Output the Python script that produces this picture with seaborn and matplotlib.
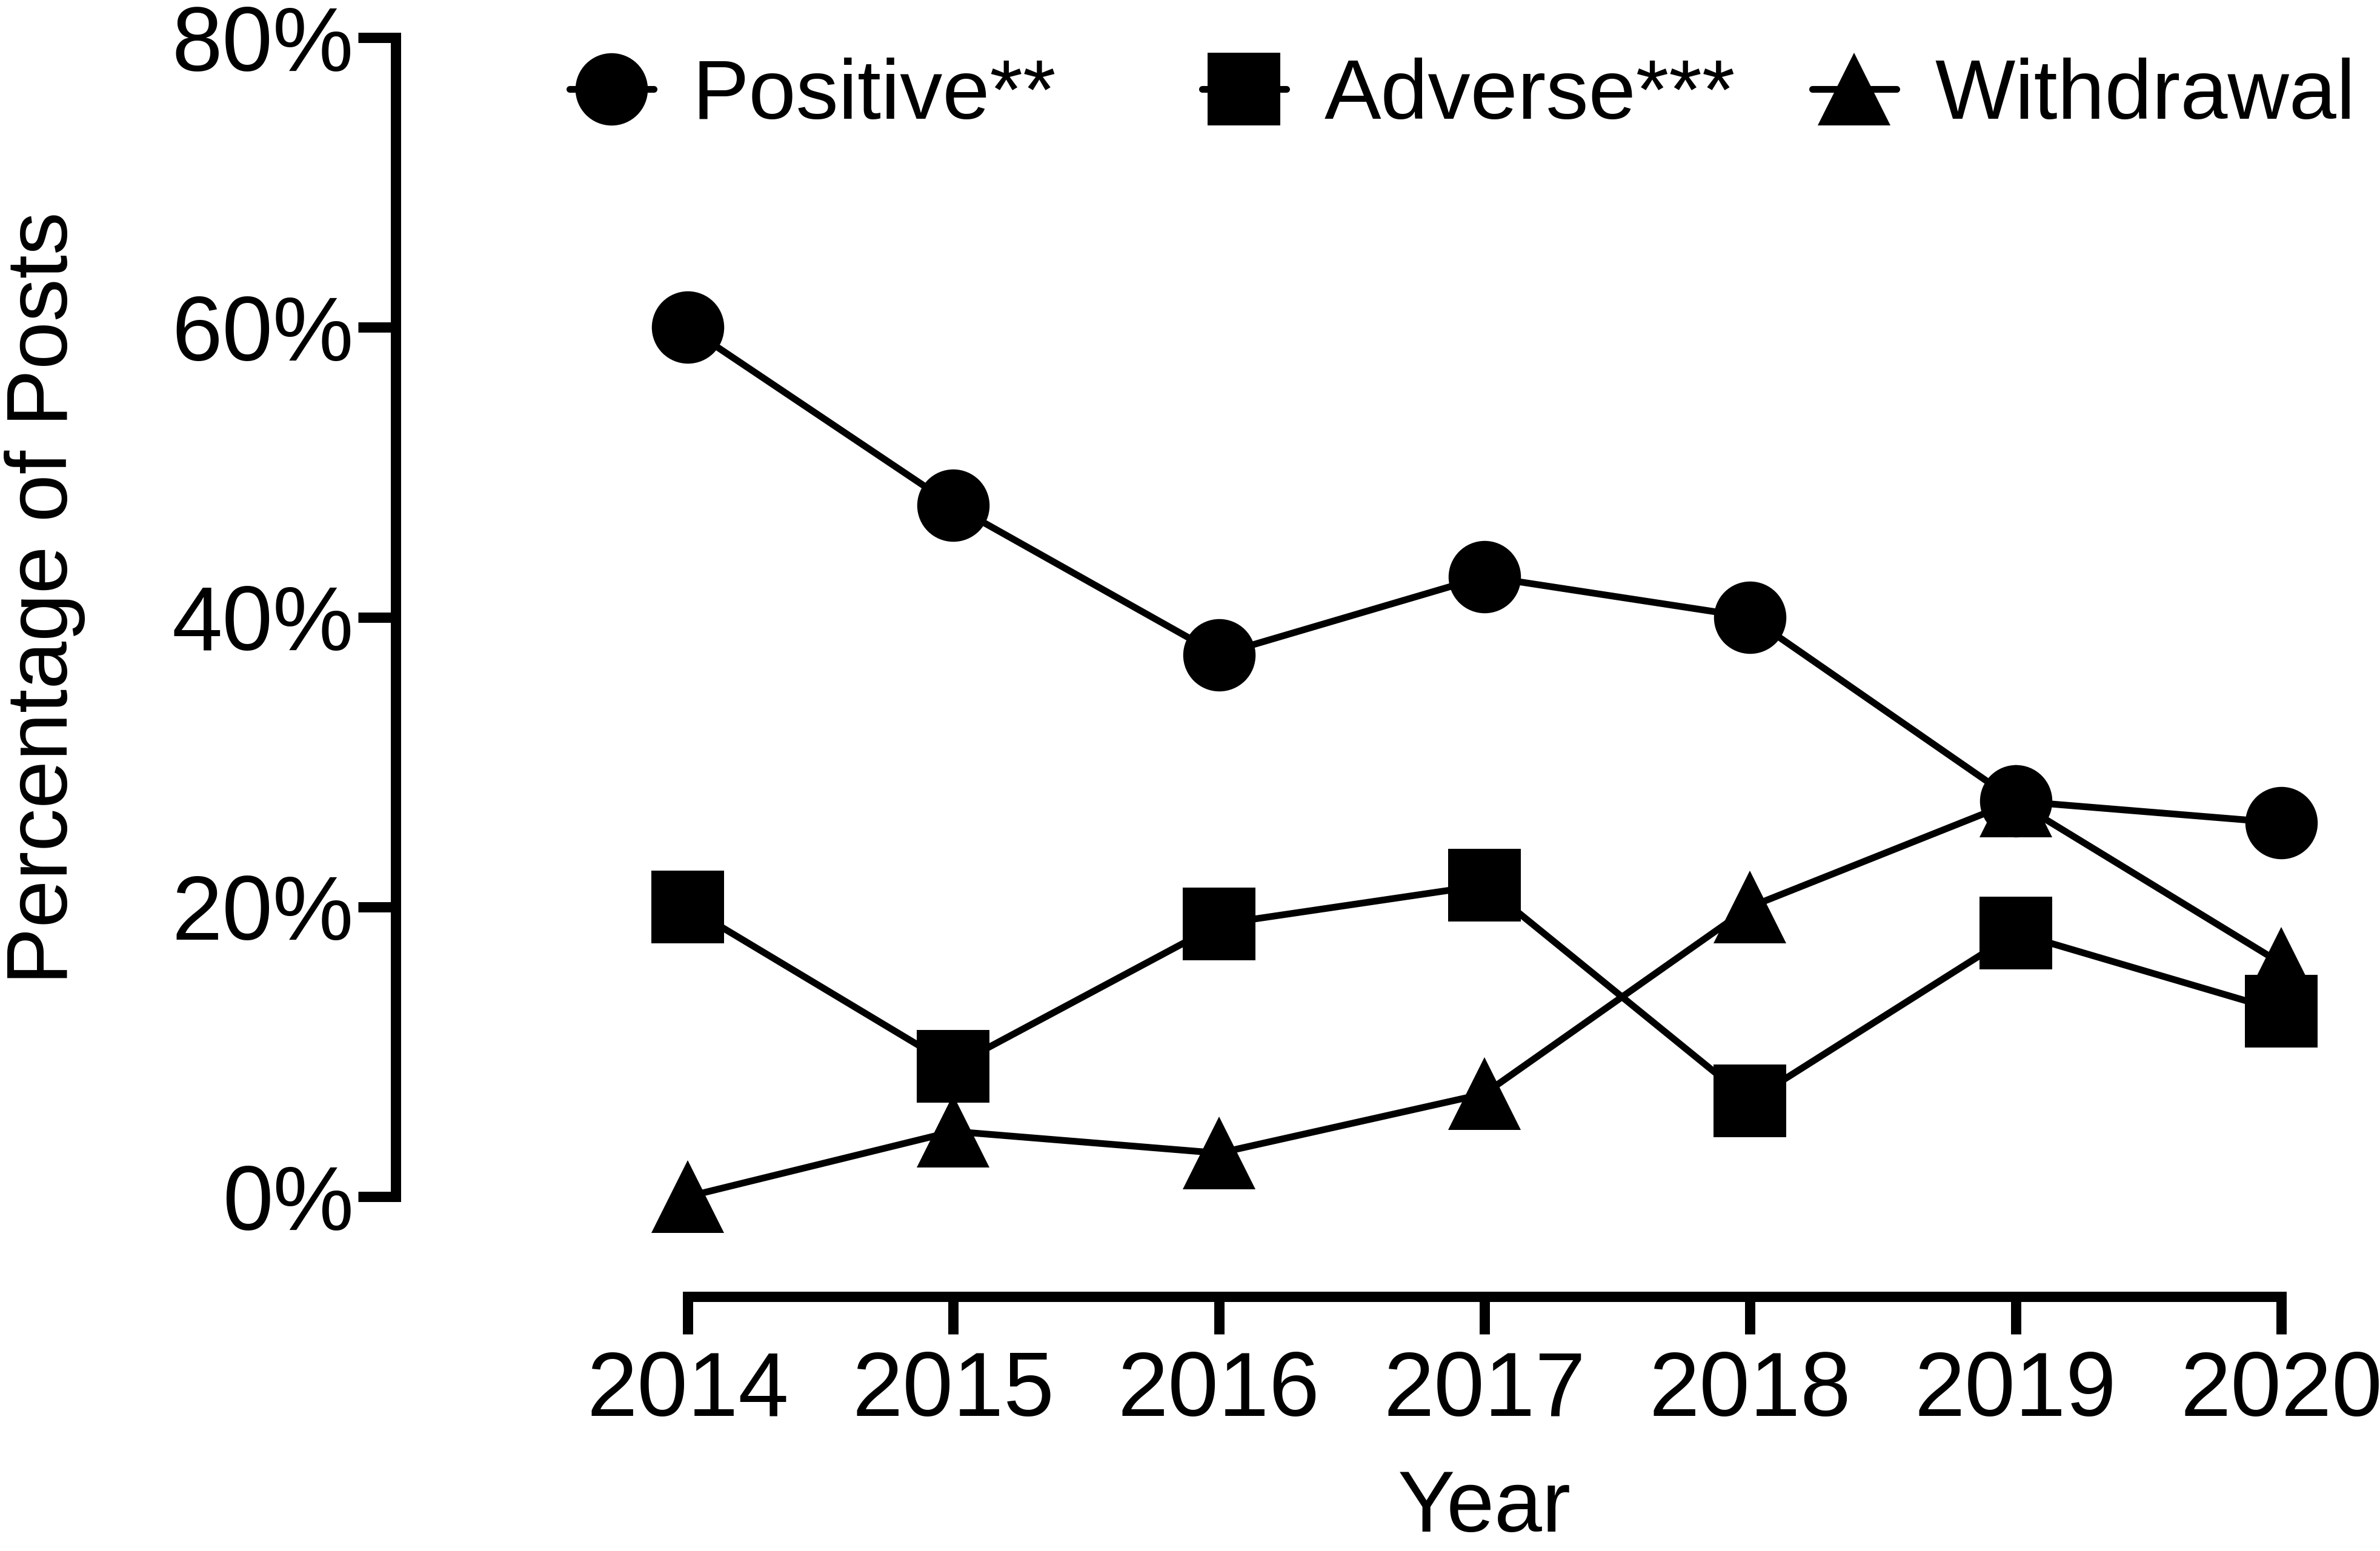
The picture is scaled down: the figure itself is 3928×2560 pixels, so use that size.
import matplotlib
matplotlib.use('Agg')
import matplotlib.pyplot as plt
import seaborn as sns

# ================================
# Data
# ================================
years = [2014, 2015, 2016, 2017, 2018, 2019, 2020]
positive = [60.0, 47.7, 37.4, 42.8, 40.0, 27.3, 25.8]
adverse = [20.0, 9.0, 18.8, 21.5, 6.6, 18.2, 12.8]
withdrawal = [0.0, 4.5, 3.0, 7.1, 20.0, 27.3, 16.1]

series_names = ['Positive**', 'Adverse***', 'Withdrawal']
series_markers = ['o', 's', '^']
y_ticks = [0, 20, 40, 60, 80]
y_tick_labels = ['0%', '20%', '40%', '60%', '80%']

# ================================
# Style
# ================================
sns.set_style('ticks')
plt.rcParams['font.family'] = ['Liberation Sans', 'DejaVu Sans']
plt.rcParams['text.color'] = 'black'
plt.rcParams['axes.labelcolor'] = 'black'
plt.rcParams['xtick.color'] = 'black'
plt.rcParams['ytick.color'] = 'black'
plt.rcParams['axes.edgecolor'] = 'black'

fig = plt.figure(figsize=(39.28, 25.6), dpi=100)
ax = fig.add_axes([0.16625, 0.16406, 0.82560, 0.81172])

# ================================
# Lines
# ================================
for name, vals, mk in zip(series_names, [positive, adverse, withdrawal], series_markers):
    sns.lineplot(x=years, y=vals, ax=ax, color='black', linewidth=8,
                 marker=mk, markersize=86, markeredgewidth=0,
                 label=name, clip_on=False)

# ================================
# Axes (Prism-like detached axes)
# ================================
ax.set_xlim(2012.900, 2020.299)
ax.set_ylim(-6.90, 80)
ax.set_xticks(years)
ax.set_xticklabels([str(y) for y in years])
ax.set_yticks(y_ticks)
ax.set_yticklabels(y_tick_labels)
sns.despine(ax=ax)
ax.spines['left'].set_bounds(0, 80)
ax.spines['bottom'].set_bounds(2014, 2020)
for s in ['left', 'bottom']:
    ax.spines[s].set_linewidth(12.2)
    ax.spines[s].set_color('black')
    ax.spines[s].set_capstyle('projecting')
ax.tick_params(axis='both', length=44.6, width=12.2, labelsize=108)
ax.tick_params(axis='y', pad=5)
ax.tick_params(axis='x', pad=19)
ax.set_xlabel('')
ax.set_ylabel('')

fig.text(2450 / 3928, 32 / 2560, 'Year', ha='center', va='baseline', fontsize=102)
fig.text(111 / 3928, 1 - 987 / 2560, 'Percentage of Posts', rotation=90,
         rotation_mode='anchor', ha='center', va='baseline', fontsize=102)

# ================================
# Legend: one entry per series, placed like the Prism original
# ================================
handles, labels = ax.get_legend_handles_labels()
legend_x = [940, 1984, 2991]
legends = []
for h, lab, lx in zip(handles, labels, legend_x):
    leg = ax.legend([h], [lab], loc='center left', bbox_to_anchor=(lx / 3928, 0.9375),
                    bbox_transform=fig.transFigure, frameon=False, fontsize=101,
                    handlelength=0.99, handletextpad=0.45,
                    borderpad=0, borderaxespad=0, markerscale=1)
    legends.append(leg)
for leg in legends[:-1]:
    ax.add_artist(leg)

fig.savefig('out.png', dpi=100)
